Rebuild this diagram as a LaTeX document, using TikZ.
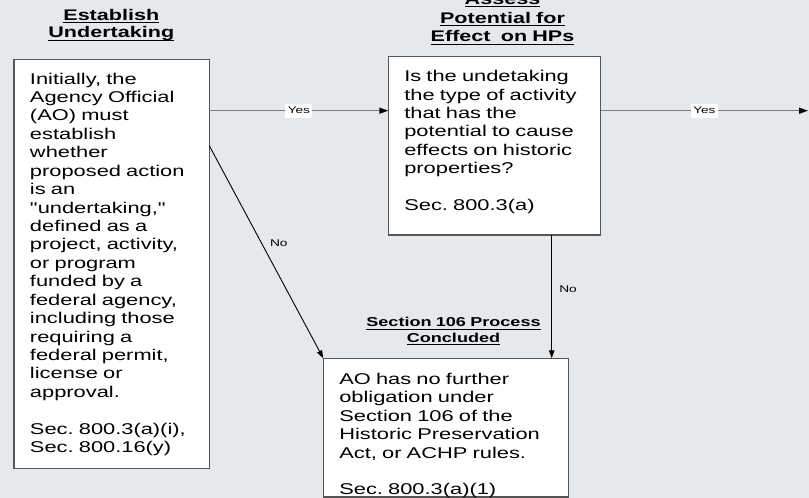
\documentclass[tikz,border=0pt]{standalone}
\usepackage{fontspec}
\usetikzlibrary{arrows.meta}
\newfontfamily\flowfont[FakeStretch=1.4]{Liberation Sans}
\definecolor{pagebg}{RGB}{228,233,238}
\definecolor{boxline}{RGB}{85,85,85}
\definecolor{yesline}{RGB}{125,125,125}
\frenchspacing
% underline at a fixed depth below the baseline
\newcommand\headul[1]{\leavevmode\setbox0\hbox{#1}\rlap{\rule[-3pt]{\wd0}{1.1pt}}\box0}
\tikzset{
  every node/.style={inner sep=0pt, outer sep=0pt},
  stepbox/.style={draw=boxline, line width=1.3pt, fill=white, anchor=north west},
  bodytext/.style={font=\flowfont\fontsize{15.6}{18.43}\selectfont, align=left, text width=205, anchor=base west},
  headtext/.style={font=\flowfont\bfseries\fontsize{15.4}{#1}\selectfont, align=center, text width=230, anchor=base},
  yesflow/.style={draw=yesline, line width=1.4pt, -{Triangle[length=9pt,width=6pt,color=black]}},
  noflow/.style={draw=black, line width=0.9pt, -{Triangle[length=8pt,width=5.5pt]}},
  yeslabel/.style={fill=white, font=\flowfont\fontsize{9.6}{11}\selectfont, inner xsep=2.5pt, text height=7.2pt, text depth=1.6pt, inner ysep=2.5pt},
  nolabel/.style={font=\flowfont\fontsize{9.8}{11}\selectfont, anchor=west}
}
\begin{document}
\begin{tikzpicture}[x=1pt, y=-1pt]
  \useasboundingbox (0,0) rectangle (809,498);
  \fill[pagebg] (0,0) rectangle (809,498);
  \clip (0,0) rectangle (809,498);

  % step boxes
  \node[stepbox, minimum width=195.3, minimum height=409] (lbox) at (14,59.3) {};
  \node[stepbox, minimum width=212.4, minimum height=178.3] (mbox) at (388.3,56.7) {};
  \node[stepbox, minimum width=245, minimum height=138.7] (bbox) at (323.3,358.3) {};

  % headings
  \node[headtext=17.3] (lhead) at (111.3,20.3)
    {\headul{Establish}\\\headul{Undertaking}};
  \node[headtext=18.8] (mhead) at (502.5,4.2)
    {\headul{Assess}\\\headul{Potential for}\\\headul{Effect~ on HPs}};
  \node[headtext=15.4, font=\flowfont\bfseries\fontsize{12.9}{15.4}\selectfont] (bhead) at (453.5,326.7)
    {\headul{Section 106 Process}\\\headul{Concluded}};

  % box texts
  \node[bodytext] (ltext) at (30,84)
    {Initially, the\\Agency Official\\(AO) must\\establish\\whether\\proposed action\\is an\\"undertaking,"\\defined as a\\project, activity,\\or program\\funded by a\\federal agency,\\including those\\requiring a\\federal permit,\\license or\\approval.\\[18.43pt]Sec. 800.3(a)(i),\\Sec. 800.16(y)};
  \node[bodytext] (mtext) at (404.3,81.7)
    {Is the undetaking\\the type of activity\\that has the\\potential to cause\\effects on historic\\properties?\\[18.43pt]Sec. 800.3(a)};
  \node[bodytext] (btext) at (339.3,384.3)
    {AO has no further\\obligation under\\Section 106 of the\\Historic Preservation\\Act, or ACHP rules.\\[18.43pt]Sec. 800.3(a)(1)};

  % connectors
  \coordinate (yesrow) at (0,110.7);
  \coordinate (norow) at (0,145.7);
  \coordinate (nocol) at (551.7,0);
  \coordinate (exit) at (808,110.7);

  \draw[yesflow] (lbox.east |- yesrow) -- node[yeslabel] (yes1) {Yes} (mbox.west |- yesrow);
  \draw[yesflow] (mbox.east |- yesrow) -- node[yeslabel] (yes2) {Yes} (exit);
  \draw[noflow] (lbox.east |- norow) -- node[nolabel, pos=0.458, xshift=8.5pt] (no1) {No} (bbox.north west);
  \draw[noflow] (mbox.south -| nocol) -- node[nolabel, pos=0.438, xshift=7.6pt] (no2) {No} (bbox.north -| nocol);
\end{tikzpicture}
\end{document}
